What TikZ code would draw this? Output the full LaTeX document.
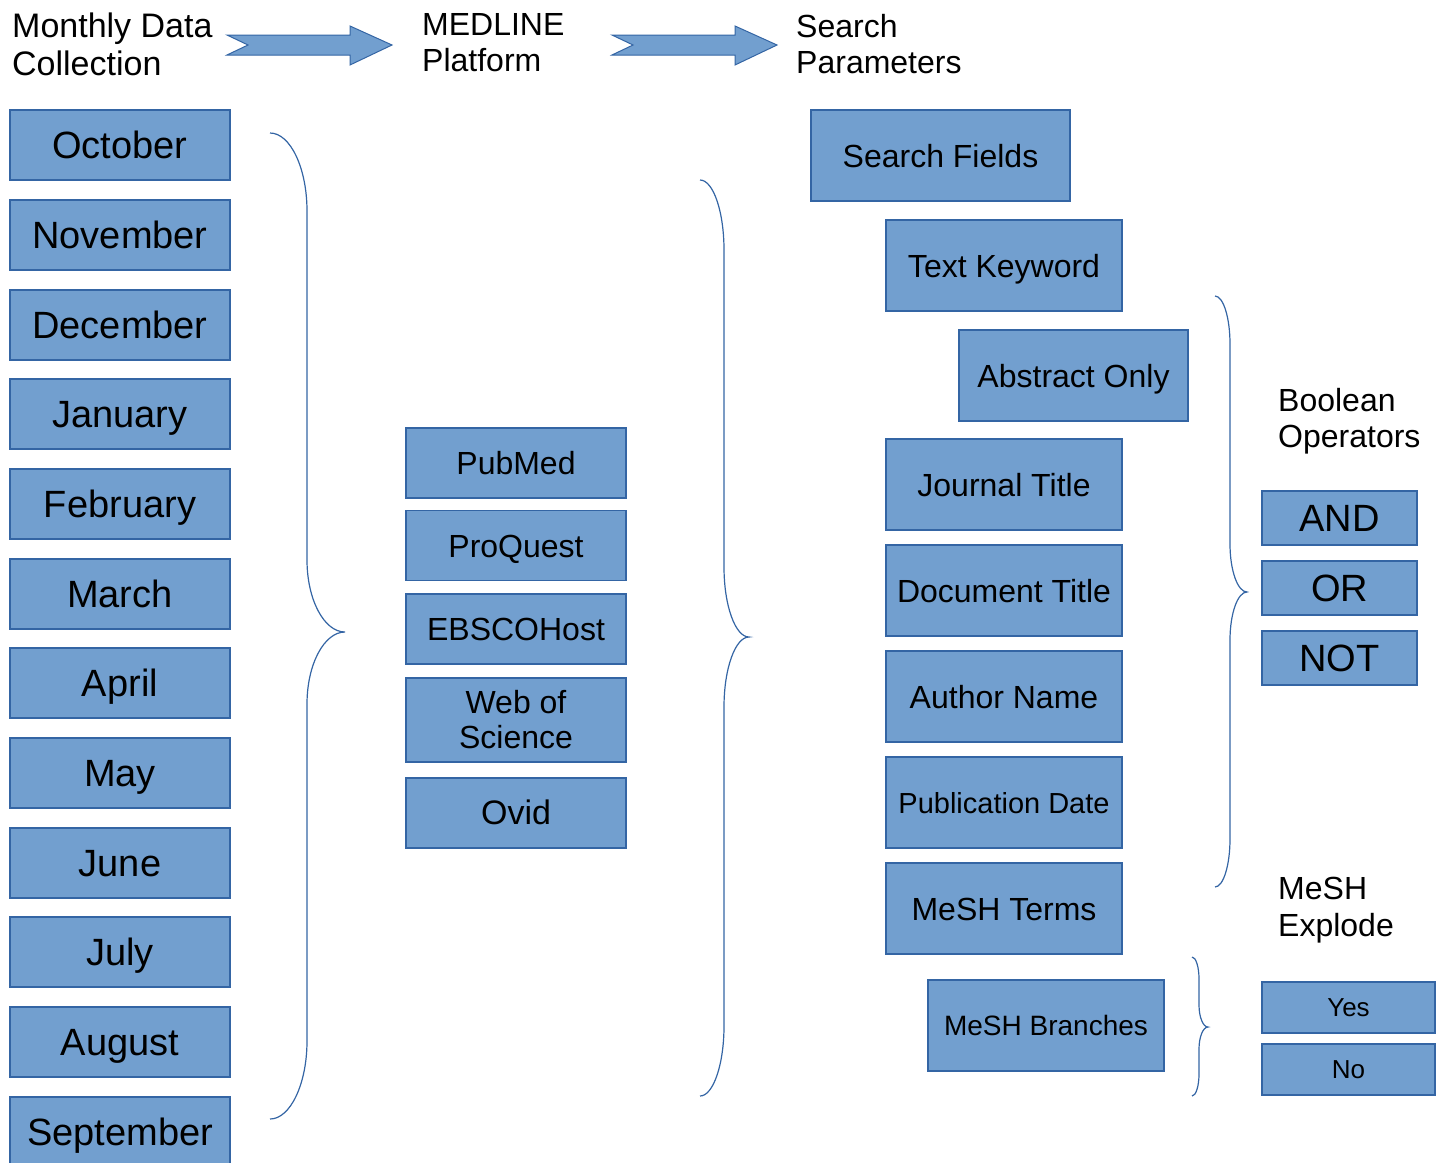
\documentclass[tikz,border=0pt]{standalone}
\usepackage{fontspec}
\setmainfont{Liberation Sans}
\definecolor{boxfill}{RGB}{114,159,207}
\definecolor{boxline}{RGB}{52,101,164}
\newcommand{\fs}[1]{\fontsize{#1}{#1}\selectfont}
\begin{document}
\begin{tikzpicture}[x=1pt,y=-1pt,
  box/.style={draw=boxline,fill=boxfill,line width=1.2pt,inner sep=0pt,align=center,text=black},
  month/.style={box,minimum width=220pt,minimum height=70pt,font=\fs{38},text height=34pt,text depth=7pt},
  plat/.style={box,minimum width=220pt,minimum height=70pt,font=\fs{32},text height=29pt,text depth=6pt},
  platwide/.style={box,minimum width=220pt,minimum height=84pt,font={\fontsize{32}{35}\selectfont}},
  field/.style={box,minimum width=236pt,minimum height=91pt,font=\fs{32},text height=29pt,text depth=6pt},
  oper/.style={box,minimum width=155pt,minimum height=54pt,font=\fs{38},text height=34pt,text depth=7pt},
  yn/.style={box,minimum width=173pt,minimum height=51pt,font=\fs{26},text height=23pt,text depth=4.5pt},
  head/.style={anchor=north west,inner sep=0pt,align=left,font={\fontsize{32}{36.5}\selectfont}},
  brace/.style={draw=boxline,line width=1.2pt},
  bigarrow/.style={draw=boxline,fill=boxfill,line width=1pt}]
\useasboundingbox (0,0) rectangle (1440,1162);
% headings
\node[head,font={\fontsize{34}{38}\selectfont}] (h1) at (12,13) {Monthly Data\\Collection};
\node[head] (h2) at (422,13) {MEDLINE\\Platform};
\node[head] (h3) at (796,14) {Search\\Parameters};
\node[head] (h4) at (1278,388) {Boolean\\Operators};
\node[head] (h5) at (1278,877) {MeSH\\Explode};
% top arrows
\draw[bigarrow] (227,35) -- (350,35) -- (350,26) -- (392,45) -- (350,65) -- (350,55) -- (227,55) -- (248,45) -- cycle;
\draw[bigarrow] (612,35) -- (735,35) -- (735,26) -- (777,45) -- (735,65) -- (735,55) -- (612,55) -- (633,45) -- cycle;
% months
\node[month] (m1) at (120,145) {October};
\node[month] (m2) at (120,235) {November};
\node[month] (m3) at (120,325) {December};
\node[month] (m4) at (120,414) {January};
\node[month] (m5) at (120,504) {February};
\node[month] (m6) at (120,594) {March};
\node[month] (m7) at (120,683) {April};
\node[month] (m8) at (120,773) {May};
\node[month] (m9) at (120,863) {June};
\node[month] (m10) at (120,952) {July};
\node[month] (m11) at (120,1042) {August};
\node[month] (m12) at (120,1132) {September};
% platforms
\node[plat] (p1) at (516,463) {PubMed};
\node[plat] (p2) at (516,545.5) {ProQuest};
\node[plat] (p3) at (516,629) {EBSCOHost};
\node[platwide] (p4) at (516,720) {Web of\\Science};
\node[plat,font=\fs{34}] (p5) at (516,813) {Ovid};
% search fields
\node[field,minimum width=259pt] (s1) at (940.5,155.5) {Search Fields};
\node[field] (s2) at (1004,265.5) {Text Keyword};
\node[field,minimum width=229pt] (s3) at (1073.5,375.5) {Abstract Only};
\node[field] (s4) at (1004,484.5) {Journal Title};
\node[field] (s5) at (1004,590.5) {Document Title};
\node[field] (s6) at (1004,696.5) {Author Name};
\node[field,font=\fs{29},text height=26pt,text depth=5pt] (s7) at (1004,802.5) {Publication Date};
\node[field] (s8) at (1004,908.5) {MeSH Terms};
\node[field,font=\fs{28},text height=25pt,text depth=5pt] (s9) at (1046,1025.5) {MeSH Branches};
% operators
\node[oper] (o1) at (1339.5,518) {AND};
\node[oper] (o2) at (1339.5,588) {OR};
\node[oper] (o3) at (1339.5,658) {NOT};
\node[yn] (y1) at (1348.5,1007.5) {Yes};
\node[yn] (y2) at (1348.5,1069.5) {No};
% braces: \bracepath{x-end}{x-line}{x-tip}{y-top}{y-mid}{y-bottom}{h-end}{h-mid}
\newcommand{\bracepath}[8]{%
  \draw[brace] (#1,#4) .. controls ({#1+0.55*(#2-#1)},#4) and (#2,{#4+0.45*#7}) .. (#2,{#4+#7})
    -- (#2,{#5-#8}) .. controls (#2,{#5-0.45*#8}) and ({#3-0.55*(#3-#2)},#5) .. (#3,#5)
    .. controls ({#3-0.55*(#3-#2)},#5) and (#2,{#5+0.45*#8}) .. (#2,{#5+#8})
    -- (#2,{#6-#7}) .. controls (#2,{#6-0.45*#7}) and ({#1+0.55*(#2-#1)},#6) .. (#1,#6);}
\coordinate (b1tip) at (345,632);
\bracepath{270}{307}{345}{133}{632}{1119}{78}{72}
\coordinate (b2tip) at (749,637);
\bracepath{700}{724}{749}{180}{637}{1096}{70}{70}
\coordinate (b3tip) at (1247,592);
\bracepath{1215}{1230}{1247}{296}{592}{887}{48}{48}
\coordinate (b4tip) at (1208,1027);
\bracepath{1192}{1199}{1208}{957}{1027}{1096}{22}{22}
\end{tikzpicture}
\end{document}
